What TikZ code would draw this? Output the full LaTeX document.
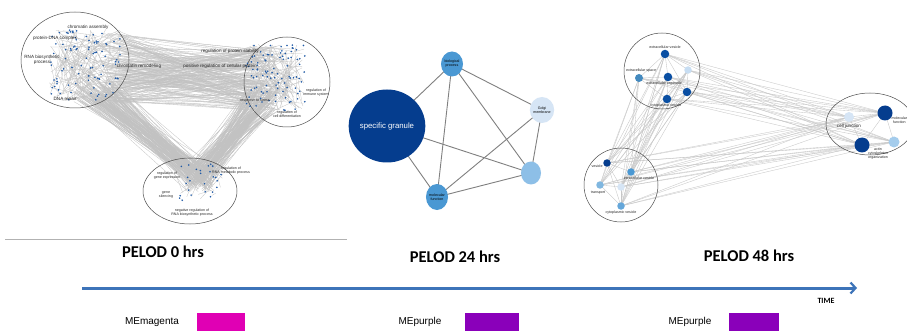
\documentclass[tikz,border=0pt]{standalone}
\usepackage{fontspec}
\setmainfont{Carlito}
\newfontfamily\labelfont{Liberation Sans}
\usetikzlibrary{arrows.meta,shapes.geometric}

\definecolor{netgray}{HTML}{C2C2C2}
\definecolor{edgegray}{HTML}{808080}
\definecolor{dotblue}{HTML}{1F5AA6}
\definecolor{darkgo}{HTML}{053D8E}
\definecolor{deepgo}{HTML}{0A4FA3}
\definecolor{midgo}{HTML}{4A98D3}
\definecolor{softgo}{HTML}{8DBFE7}
\definecolor{palego}{HTML}{D6E5F5}
\definecolor{timeblue}{HTML}{3D74B9}
\definecolor{memagenta}{HTML}{E000B4}
\definecolor{mepurple}{HTML}{8A00BA}

\tikzset{
  bundle/.style={netgray, line width=0.28pt},
  ring/.style={draw=black!70, line width=0.5pt},
  termlabel/.style={font=\labelfont\fontsize{4.6}{5}\selectfont, align=center, inner sep=0.3pt, text=black!85},
  smalllabel/.style={font=\labelfont\fontsize{3.6}{4}\selectfont, align=center, inner sep=0.3pt, text=black!85},
  goterm/.style={ellipse, draw=none, inner sep=0pt, font=\labelfont\fontsize{3.6}{4}\selectfont, align=center},
  gonet/.style={edgegray, line width=0.9pt},
  godot/.style={circle, draw=none, inner sep=0pt},
  thinnet/.style={black!22, line width=0.35pt},
  timelabel/.style={font=\bfseries\fontsize{16.5}{18}\selectfont},
  modlabel/.style={font=\labelfont\fontsize{10}{11}\selectfont}
}

\begin{document}
\begin{tikzpicture}[x=1pt, y=-1pt]
\clip (0,0) rectangle (907,331);
\fill[white] (0,0) rectangle (907,331);
\pgfmathsetseed{7}

% PELOD 0 hrs: three clusters and their bundles
\foreach \i in {1,...,200}{
  \pgfmathsetmacro{\xa}{112+14*rand}\pgfmathsetmacro{\ya}{68+36*rand}
  \pgfmathsetmacro{\xb}{262+18*rand}\pgfmathsetmacro{\yb}{78+32*rand}
  \draw[bundle] (\xa,\ya) -- (\xb,\yb);
}
\foreach \i in {1,...,130}{
  \pgfmathsetmacro{\xa}{95+22*rand}\pgfmathsetmacro{\ya}{90+12*rand}
  \pgfmathsetmacro{\xb}{200+14*rand}\pgfmathsetmacro{\yb}{178+14*rand}
  \draw[bundle] (\xa,\ya) -- (\xb,\yb);
}
\foreach \i in {1,...,130}{
  \pgfmathsetmacro{\xa}{262+18*rand}\pgfmathsetmacro{\ya}{100+14*rand}
  \pgfmathsetmacro{\xb}{198+14*rand}\pgfmathsetmacro{\yb}{178+14*rand}
  \draw[bundle] (\xa,\ya) -- (\xb,\yb);
}
% links inside the clusters
\foreach \cx/\cy/\rx/\ry/\n in {85/65/36/36/120, 275/78/30/34/120, 200/183/24/20/25}{
  \foreach \i in {1,...,\n}{
    \pgfmathsetmacro{\xa}{\cx+\rx*rand}\pgfmathsetmacro{\ya}{\cy+\ry*rand}
    \pgfmathsetmacro{\xb}{\cx+\rx*rand}\pgfmathsetmacro{\yb}{\cy+\ry*rand}
    \draw[bundle] (\xa,\ya) -- (\xb,\yb);
  }
}
\draw[ring] (75,60) ellipse (54 and 48);
\draw[ring] (287,82) ellipse (43 and 45);
\draw[ring] (190,191) ellipse (47 and 33);
\foreach \cx/\cy/\rx/\ry/\n in {85/65/35/35/90, 275/78/30/33/95, 200/183/22/19/26}{
  \foreach \i in {1,...,\n}{
    \pgfmathsetmacro{\xa}{\cx+\rx*rand}\pgfmathsetmacro{\ya}{\cy+\ry*rand}
    \fill[dotblue] (\xa,\ya) circle (0.9);
  }
}
\node[termlabel] (chrasm) at (88,27) {chromatin assembly};
\node[termlabel] (protdna) at (55,38) {protein-DNA complex};
\node[termlabel] (rnabio) at (42,60) {RNA biosynthetic\\process};
\node[termlabel] (chrrem) at (139,66) {chromatin remodeling};
\node[termlabel] (dnarep) at (65,99) {DNA repair};
\node[termlabel] (protstab) at (230,51) {regulation of protein stability};
\node[termlabel] (posreg) at (220,66) {positive regulation of cellular protein};
\node[smalllabel] (stress) at (255,101) {response to stress};
\node[smalllabel] (immune) at (316,93) {regulation of\\immune system};
\node[smalllabel] (celldiff) at (287,114) {regulation of\\cell differentiation};
\node[smalllabel] (geneexp) at (167,176) {regulation of\\gene expression};
\node[smalllabel] (rnamet) at (231,171) {regulation of\\RNA metabolic process};
\node[smalllabel] (silence) at (166,195) {gene\\silencing};
\node[smalllabel] (negreg) at (192,213) {negative regulation of\\RNA biosynthetic process};
\draw[black!30, line width=0.8pt] (5,239) -- (347,239);

% PELOD 24 hrs
\coordinate (granule) at (387,126);
\coordinate (bioproc) at (452,64);
\coordinate (golgi) at (542,110);
\coordinate (anon) at (531,173);
\coordinate (molfun) at (437,197);
\foreach \a/\b in {granule/bioproc, granule/molfun, granule/anon, bioproc/molfun,
                   bioproc/golgi, bioproc/anon, golgi/molfun, golgi/anon, molfun/anon}
  \draw[gonet] (\a) -- (\b);
\node[goterm, fill=darkgo, minimum width=59, minimum height=73, text=white,
      font=\labelfont\fontsize{7.8}{8}\selectfont] (granulenode) at (granule) {specific granule};
\node[goterm, fill=midgo, minimum width=22, minimum height=25] (bioprocnode) at (bioproc) {biological\\process};
\node[goterm, fill=palego, minimum width=22, minimum height=26] (golginode) at (golgi) {Golgi\\membrane};
\node[goterm, fill=softgo, minimum width=20, minimum height=23] (anonnode) at (anon) {};
\node[goterm, fill=midgo, minimum width=22, minimum height=26] (molfunnode) at (molfun) {molecular\\function};

% PELOD 48 hrs
\coordinate (ev) at (665,54);  \coordinate (es) at (639,78);  \coordinate (eo) at (668,77);
\coordinate (la) at (688,70);  \coordinate (d1) at (687,92);  \coordinate (cv) at (667,99);
\coordinate (ve) at (607,163); \coordinate (iv) at (631,172); \coordinate (tr) at (600,185);
\coordinate (lb) at (621,187); \coordinate (cy) at (621,206);
\coordinate (cj) at (849,117); \coordinate (mf) at (885,113); \coordinate (ln) at (894,142);
\coordinate (ac) at (862,145);
\foreach \a in {ev,es,eo,la,d1,cv}{
  \foreach \c in {cj,mf,ln,ac} \draw[thinnet] (\a) -- (\c);
  \foreach \c in {ve,iv,tr,lb,cy} \draw[thinnet] (\a) -- (\c);
}
\foreach \a in {ve,iv,tr,lb,cy}
  \foreach \c in {cj,mf,ln,ac} \draw[thinnet] (\a) -- (\c);
\foreach \a/\b in {ev/es, ev/eo, ev/la, ev/d1, es/eo, es/cv, eo/cv, eo/d1, la/d1, d1/cv, la/cv,
                   ve/iv, ve/tr, ve/lb, ve/cy, iv/lb, tr/lb, tr/cy, lb/cy, iv/cy,
                   cj/mf, cj/ac, mf/ac, mf/ln, ac/ln}
  \draw[thinnet] (\a) -- (\b);
\draw[ring] (662,71) circle (38);
\draw[ring] (621,185) circle (37);
\draw[ring] (870,124) ellipse (44 and 31);
\node[godot, fill=deepgo, minimum size=8.5] (evn) at (ev) {};
\node[godot, fill=midgo!90!black, minimum size=8] (esn) at (es) {};
\node[godot, fill=deepgo, minimum size=8.5] (eon) at (eo) {};
\node[godot, fill=palego!80!softgo, minimum size=7.5] (lan) at (la) {};
\node[godot, fill=deepgo, minimum size=8.5] (d1n) at (d1) {};
\node[godot, fill=deepgo, minimum size=8.5] (cvn) at (cv) {};
\node[godot, fill=darkgo, minimum size=7.5] (ven) at (ve) {};
\node[godot, fill=midgo, minimum size=7.5] (ivn) at (iv) {};
\node[godot, fill=midgo!70!white, minimum size=7.5] (trn) at (tr) {};
\node[godot, fill=palego, minimum size=7.5] (lbn) at (lb) {};
\node[godot, fill=midgo!85!white, minimum size=7.5] (cyn) at (cy) {};
\node[godot, fill=palego, minimum size=10] (cjn) at (cj) {};
\node[godot, fill=darkgo, minimum size=15] (mfn) at (mf) {};
\node[godot, fill=softgo!80!white, minimum size=11] (lnn) at (ln) {};
\node[godot, fill=darkgo, minimum size=15] (acn) at (ac) {};
\node[smalllabel] at (665,47) {extracellular vesicle};
\node[smalllabel] at (641,71) {extracellular space};
\node[smalllabel] at (664,84) {extracellular organelle};
\node[smalllabel] at (666,106) {cytoplasmic vesicle};
\node[smalllabel, anchor=east] at (603,166) {vesicle};
\node[smalllabel] at (639,178) {intracellular vesicle};
\node[smalllabel] at (598,193) {transport};
\node[smalllabel] at (621,213) {cytoplasmic vesicle};
\node[termlabel] at (849,126) {cell junction};
\node[smalllabel, anchor=west] at (891,120) {molecular\\function};
\node[smalllabel] at (878,154) {actin\\cytoskeleton\\organization};

% time line and modules
\node[timelabel] (pelod0) at (163,252) {PELOD 0 hrs};
\node[timelabel] (pelod24) at (455,257) {PELOD 24 hrs};
\node[timelabel] (pelod48) at (749,256) {PELOD 48 hrs};
\coordinate (tstart) at (82,288);
\coordinate (tend) at (857,288);
\draw[timeblue, line width=3pt, -{Straight Barb[length=5pt,width=11pt,line width=2.2pt]}] (tstart) -- (tend);
\node[font=\bfseries\fontsize{8}{9}\selectfont] (timelbl) at (826,301) {TIME};
\node[modlabel] (mod0) at (152,322) {MEmagenta};
\node[modlabel] (mod24) at (420,322) {MEpurple};
\node[modlabel] (mod48) at (690,322) {MEpurple};
\fill[memagenta] (197,313) rectangle (245,331);
\fill[mepurple] (465,313) rectangle (519,331);
\fill[mepurple] (729,313) rectangle (779,331);
\end{tikzpicture}
\end{document}
